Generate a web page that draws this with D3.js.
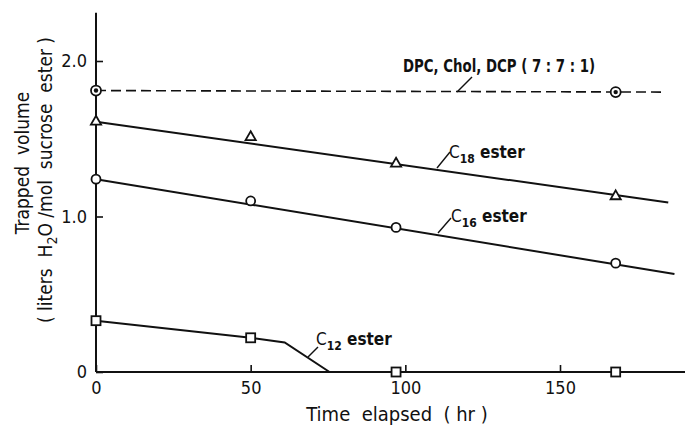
<!DOCTYPE html>
<meta charset="utf-8">
<head>
  <script src="https://d3js.org/d3.v7.min.js"></script>
</head>
<body style="margin:0;background:#fff">
<div id="chart"></div>
<style>
  #chart text { font-family: "DejaVu Sans Condensed", "DejaVu Sans", sans-serif; fill: #111; white-space: pre; }
</style>
<script>
"use strict"

// tick labels
var xTicks = [0, 50, 100, 150];
var yTicks = [0, 1.0, 2.0];
var yTickLabels = ["0", "1.0", "2.0"];

// measured points: [hours, liters H2O / mol]
var dpcPoints = [[0, 1.81], [168, 1.80]];
var c18Points = [[0, 1.61], [50, 1.51], [97, 1.34], [168, 1.13]];
var c16Points = [[0, 1.24], [50, 1.10], [97, 0.93], [168, 0.70]];
var c12Points = [[0, 0.33], [50, 0.22], [97, 0.0], [168, 0.0]];

// drawn lines
var dpcLine = [[0, 1.81], [184, 1.80]];
var c18Line = [[0, 1.61], [185, 1.09]];
var c16Line = [[0, 1.24], [187, 0.63]];
var c12Line = [[0, 0.33], [50, 0.22], [61, 0.19], [75.5, 0]];

var larguraSVG = 685, alturaSVG = 429;

var svg = d3.select('#chart')
            .append('svg')
              .attr('width', larguraSVG)
              .attr('height', alturaSVG);

var x = d3.scaleLinear().domain([0, 150]).range([96, 560]);
var y = d3.scaleLinear().domain([0, 2]).range([372, 61]);

var linha = d3.line().x(d => x(d[0])).y(d => y(d[1]));

// axes
svg.append('g')
   .attr('transform', 'translate(0,' + y(0) + ')')
   .call(d3.axisBottom(x).tickValues(xTicks).tickSizeInner(-7).tickSizeOuter(0).tickPadding(9))
   .call(g => g.select('.domain').remove())
   .call(g => g.selectAll('line').attr('stroke', '#111').attr('stroke-width', 1.6))
   .call(g => g.selectAll('text').attr('font-size', 18).attr('fill', '#111'));

svg.append('g')
   .attr('transform', 'translate(' + x(0) + ',0)')
   .call(d3.axisLeft(y).tickValues(yTicks).tickFormat((d, i) => yTickLabels[i])
           .tickSizeInner(-7).tickSizeOuter(0).tickPadding(9))
   .call(g => g.select('.domain').remove())
   .call(g => g.selectAll('line').attr('stroke', '#111').attr('stroke-width', 1.6))
   .call(g => g.selectAll('text').attr('font-size', 18).attr('fill', '#111'));

svg.append('line')
   .attr('x1', x(0)).attr('x2', x(191))
   .attr('y1', y(0)).attr('y2', y(0))
   .attr('stroke', '#111').attr('stroke-width', 2);

svg.append('line')
   .attr('x1', x(0)).attr('x2', x(0))
   .attr('y1', y(0)).attr('y2', y(2.31))
   .attr('stroke', '#111').attr('stroke-width', 2);

// axis titles
svg.append('text')
   .attr('x', 397).attr('y', 421)
   .attr('text-anchor', 'middle')
   .attr('font-size', 20)
   .text('Time  elapsed  ( hr )');

svg.append('text')
   .attr('transform', 'translate(29,163) rotate(-90)')
   .attr('text-anchor', 'middle')
   .attr('font-size', 19)
   .text('Trapped  volume');

var yTitle2 = svg.append('text')
   .attr('transform', 'translate(52,180) rotate(-90)')
   .attr('text-anchor', 'middle')
   .attr('font-size', 19);
yTitle2.append('tspan').text('( liters  H');
yTitle2.append('tspan').attr('font-size', 14).attr('dy', 5).text('2');
yTitle2.append('tspan').attr('dy', -5).text('O /mol  sucrose  ester )');

// lines
svg.append('path').datum(dpcLine).attr('d', linha)
   .attr('fill', 'none').attr('stroke', '#111').attr('stroke-width', 1.6)
   .attr('stroke-dasharray', '10,5');

[c18Line, c16Line, c12Line].forEach(function(l) {
  svg.append('path').datum(l).attr('d', linha)
     .attr('fill', 'none').attr('stroke', '#111').attr('stroke-width', 2);
});

// markers
svg.selectAll('circle.dpc').data(dpcPoints).enter()
   .append('circle').attr('class', 'dpc')
   .attr('cx', d => x(d[0])).attr('cy', d => y(d[1])).attr('r', 5)
   .attr('fill', '#fff').attr('stroke', '#111').attr('stroke-width', 1.8);
svg.selectAll('circle.dpcdot').data(dpcPoints).enter()
   .append('circle').attr('class', 'dpcdot')
   .attr('cx', d => x(d[0])).attr('cy', d => y(d[1])).attr('r', 2.2)
   .attr('fill', '#111');

svg.selectAll('path.tri').data(c18Points).enter()
   .append('path').attr('class', 'tri')
   .attr('d', d3.symbol().type(d3.symbolTriangle).size(45))
   .attr('transform', d => 'translate(' + x(d[0]) + ',' + y(d[1]) + ')')
   .attr('fill', '#fff').attr('stroke', '#111').attr('stroke-width', 1.8);

svg.selectAll('circle.c16').data(c16Points).enter()
   .append('circle').attr('class', 'c16')
   .attr('cx', d => x(d[0])).attr('cy', d => y(d[1])).attr('r', 4.5)
   .attr('fill', '#fff').attr('stroke', '#111').attr('stroke-width', 1.8);

svg.selectAll('rect.c12').data(c12Points).enter()
   .append('rect').attr('class', 'c12')
   .attr('x', d => x(d[0]) - 4.5).attr('y', d => y(d[1]) - 4.5)
   .attr('width', 9).attr('height', 9)
   .attr('fill', '#fff').attr('stroke', '#111').attr('stroke-width', 1.8);

// labels with leader lines
function rotulo(px, py, sub, lx1, ly1, lx2, ly2) {
  svg.append('line')
     .attr('x1', lx1).attr('y1', ly1).attr('x2', lx2).attr('y2', ly2)
     .attr('stroke', '#111').attr('stroke-width', 1.4);
  var t = svg.append('text').attr('x', px).attr('y', py)
             .attr('font-size', 17).attr('font-weight', 'bold');
  t.append('tspan').attr('font-weight', 'normal').text('C');
  t.append('tspan').attr('font-size', 12).attr('dy', 5).text(sub);
  t.append('tspan').attr('dy', -5).text(' ester');
}

rotulo(449, 158, '18', 437, 168, 450, 152);
rotulo(451, 222, '16', 438, 233, 451, 218);
rotulo(316, 345, '12', 308, 357, 318, 347);

svg.append('line')
   .attr('x1', 457).attr('y1', 92).attr('x2', 472).attr('y2', 77)
   .attr('stroke', '#111').attr('stroke-width', 1.4);
svg.append('text')
   .attr('x', 403).attr('y', 72)
   .attr('font-size', 18).attr('font-weight', 'bold')
   .attr('textLength', 192).attr('lengthAdjust', 'spacingAndGlyphs')
   .text('DPC, Chol, DCP ( 7 : 7 : 1)');
</script>
</body>
</html>
